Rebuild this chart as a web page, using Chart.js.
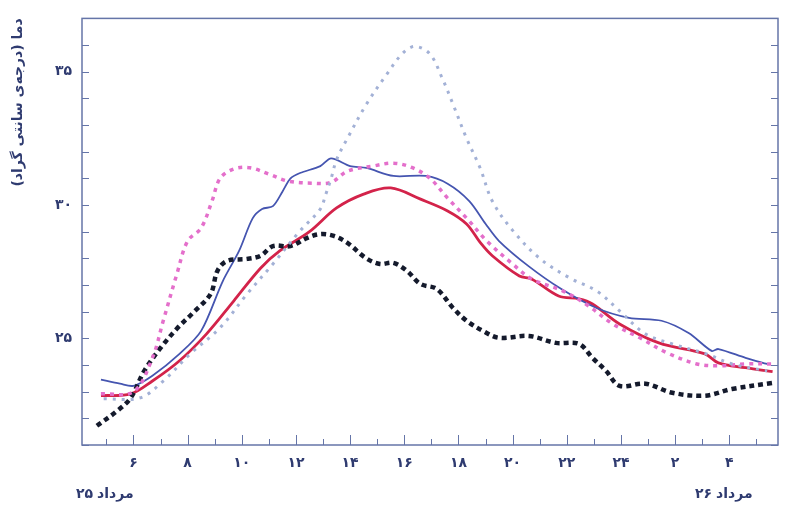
<!DOCTYPE html>
<html>
<head>
<meta charset="utf-8">
<script src="https://cdn.jsdelivr.net/npm/chart.js@4.4.1/dist/chart.umd.min.js"></script>
<style>
  html, body { margin: 0; padding: 0; background: #ffffff; }
  #wrap { width: 788px; height: 525px; }
</style>
</head>
<body>
<div id="wrap"><canvas id="myChart" width="788" height="525"></canvas></div>
<script>
// hours run past midnight: 26 = 2 o'clock on the next day
const blueHours = [4.8, 5.5, 6.0, 6.7, 7.7, 8.5, 9.3, 9.9, 10.4, 10.75, 11.15, 11.5, 11.8, 12.15, 12.9, 13.3, 14.0, 14.6, 15.6, 16.8, 17.6, 18.4, 19.0, 19.5, 20.6, 21.8, 23.1, 24.3, 25.5, 26.5, 27.35, 27.6, 28.6, 29.4];
const blueTemps = [23.45, 23.3, 23.22, 23.6, 24.42, 25.28, 27.15, 28.28, 29.5, 29.85, 29.96, 30.5, 31.0, 31.2, 31.46, 31.75, 31.46, 31.39, 31.09, 31.09, 30.8, 30.15, 29.3, 28.65, 27.7, 26.85, 26.14, 25.77, 25.66, 25.2, 24.53, 24.6, 24.27, 24.04];

const redHours = [4.8, 5.9, 6.7, 7.7, 8.7, 9.7, 10.7, 11.4, 12.5, 13.5, 14.5, 15.5, 16.6, 17.6, 18.3, 18.8, 19.25, 20.25, 20.7, 21.7, 22.45, 22.95, 23.95, 25.4, 27.1, 27.6, 28.6, 29.6];
const redTemps = [22.85, 22.92, 23.4, 24.16, 25.17, 26.4, 27.64, 28.28, 29.0, 29.89, 30.41, 30.64, 30.22, 29.78, 29.29, 28.6, 28.1, 27.34, 27.23, 26.59, 26.48, 26.29, 25.54, 24.83, 24.42, 24.08, 23.9, 23.75];

const pinkHours = [4.8, 6.0, 6.7, 7.1, 7.6, 8.0, 8.5, 8.9, 9.2, 9.7, 10.3, 11.0, 11.7, 12.6, 13.3, 13.9, 14.85, 15.6, 16.3, 16.95, 17.6, 18.3, 19.05, 20.0, 20.7, 21.85, 22.7, 23.7, 24.7, 25.7, 26.8, 27.6, 28.6, 29.6];
const pinkTemps = [22.92, 23.0, 24.27, 25.66, 27.4, 28.65, 29.14, 30.15, 31.0, 31.35, 31.4, 31.16, 30.9, 30.82, 30.85, 31.27, 31.46, 31.57, 31.4, 31.0, 30.26, 29.51, 28.65, 27.79, 27.23, 26.78, 26.29, 25.54, 25.02, 24.46, 24.04, 23.97, 24.04, 24.04];

const greyHours = [4.9, 6.25, 7.1, 8.1, 9.2, 10.2, 11.15, 12.15, 12.9, 13.1, 13.3, 13.5, 13.9, 14.6, 15.35, 15.95, 16.4, 16.95, 17.4, 17.8, 18.3, 18.8, 19.25, 20.0, 21.0, 22.1, 23.1, 23.95, 24.9, 25.9, 27.15, 28.1, 29.4];
const greyTemps = [22.73, 22.77, 23.4, 24.42, 25.4, 26.67, 27.79, 29.03, 29.85, 30.4, 31.0, 31.7, 32.5, 33.78, 34.9, 35.7, 35.95, 35.66, 34.76, 33.78, 32.5, 31.39, 30.15, 29.05, 28.0, 27.27, 26.78, 26.03, 25.17, 24.79, 24.42, 24.04, 23.78];

const blackHours = [4.65, 5.4, 5.9, 6.4, 7.0, 7.6, 8.2, 8.85, 9.1, 9.45, 10.2, 10.7, 11.15, 11.8, 12.4, 12.9, 13.4, 13.9, 14.6, 15.1, 15.6, 16.1, 16.6, 17.2, 17.8, 18.3, 18.9, 19.5, 20.6, 21.6, 22.45, 22.95, 23.45, 23.95, 24.9, 25.9, 27.1, 28.1, 29.6];
const blackTemps = [21.72, 22.28, 22.77, 23.78, 24.64, 25.36, 25.96, 26.67, 27.53, 27.9, 27.98, 28.1, 28.46, 28.46, 28.76, 28.91, 28.84, 28.58, 28.0, 27.79, 27.83, 27.53, 27.04, 26.85, 26.14, 25.66, 25.28, 25.02, 25.09, 24.83, 24.79, 24.27, 23.78, 23.22, 23.3, 22.96, 22.85, 23.1, 23.33];

const yTitle = "دما (درجه‌ی سانتی گراد)";
const monthName = "مرداد";
const startDay = "۲۵";
const endDay = "۲۶";

const navy = "#2f3b70";
const frameColor = "#6575a8";
const faDigits = "۰۱۲۳۴۵۶۷۸۹";

function toFa(n) {
  return String(n).replace(/[0-9]/g, d => faDigits[d]);
}

function points(hours, temps) {
  return hours.map((h, i) => ({ x: h, y: temps[i] }));
}

// day number on the left, month name on its right, as in the print
function drawDate(ctx, day, left, y) {
  ctx.textAlign = "left";
  ctx.fillText(day, left, y);
  ctx.fillText(monthName, left + ctx.measureText(day).width + 4, y);
}

// inward ticks, frame and the two date captions
const framePlugin = {
  id: "frame",
  afterDraw(chart) {
    const ctx = chart.ctx;
    const area = chart.chartArea;
    const xs = chart.scales.x;
    const ys = chart.scales.y;
    ctx.save();
    ctx.strokeStyle = frameColor;
    ctx.lineWidth = 1.5;
    ctx.strokeRect(area.left, area.top, area.right - area.left, area.bottom - area.top);
    ctx.lineWidth = 1;
    ctx.beginPath();
    ys.ticks.forEach(t => {
      const py = Math.round(ys.getPixelForValue(t.value)) + 0.5;
      ctx.moveTo(area.left, py);
      ctx.lineTo(area.left + 7, py);
      ctx.moveTo(area.right, py);
      ctx.lineTo(area.right - 7, py);
    });
    xs.ticks.forEach(t => {
      const px = Math.round(xs.getPixelForValue(t.value)) + 0.5;
      const len = t.value % 2 === 0 ? 10 : 6;
      ctx.moveTo(px, area.bottom);
      ctx.lineTo(px, area.bottom - len);
    });
    ctx.stroke();
    ctx.fillStyle = navy;
    ctx.font = "bold 14px 'DejaVu Sans'";
    ctx.direction = "ltr";
    ctx.textBaseline = "middle";
    drawDate(ctx, startDay, 76, 494);
    drawDate(ctx, endDay, 695, 494);
    ctx.restore();
  }
};

const data = {
  datasets: [
    {
      label: "grey",
      data: points(greyHours, greyTemps),
      borderColor: "#a3b1d6",
      borderWidth: 3,
      borderDash: [3, 6],
      tension: 0.35
    },
    {
      label: "pink",
      data: points(pinkHours, pinkTemps),
      borderColor: "#e46fcb",
      borderWidth: 3.5,
      borderDash: [4, 5],
      tension: 0.35
    },
    {
      label: "black",
      data: points(blackHours, blackTemps),
      borderColor: "#141a2c",
      borderWidth: 4.5,
      borderDash: [5, 4],
      tension: 0.35
    },
    {
      label: "blue",
      data: points(blueHours, blueTemps),
      borderColor: "#4555b0",
      borderWidth: 1.8,
      tension: 0.3
    },
    {
      label: "red",
      data: points(redHours, redTemps),
      borderColor: "#d3234a",
      borderWidth: 2.8,
      tension: 0.35
    }
  ]
};

const config = {
  type: "line",
  data,
  options: {
    responsive: false,
    animation: false,
    layout: { padding: { top: 18, right: 10, bottom: 0, left: 0 } },
    elements: { point: { radius: 0 } },
    plugins: {
      legend: { display: false },
      tooltip: { enabled: false }
    },
    scales: {
      x: {
        type: "linear",
        min: 4.1,
        max: 29.8,
        grid: { display: false, drawTicks: false },
        border: { display: false },
        afterFit(scale) { scale.height = 80; },
        ticks: {
          stepSize: 1,
          includeBounds: false,
          autoSkip: false,
          maxRotation: 0,
          padding: 10,
          color: navy,
          font: { family: "DejaVu Sans", size: 14, weight: "bold" },
          callback: v => (v % 2 === 0 ? toFa(v > 24 ? v - 24 : v) : "")
        }
      },
      y: {
        min: 21,
        max: 37,
        grid: { display: false, drawTicks: false },
        border: { display: false },
        afterFit(scale) { scale.width = 82; },
        title: {
          display: true,
          text: yTitle,
          align: "end",
          color: navy,
          font: { family: "DejaVu Sans", size: 14, weight: "bold" },
          padding: { top: 10, bottom: 0 }
        },
        ticks: {
          stepSize: 1,
          autoSkip: false,
          padding: 10,
          color: navy,
          font: { family: "DejaVu Sans", size: 14, weight: "bold" },
          callback: v => (v % 5 === 0 ? toFa(v) : "")
        }
      }
    }
  },
  plugins: [framePlugin]
};

const myChart = new Chart(document.getElementById("myChart"), config);
</script>
</body>
</html>
